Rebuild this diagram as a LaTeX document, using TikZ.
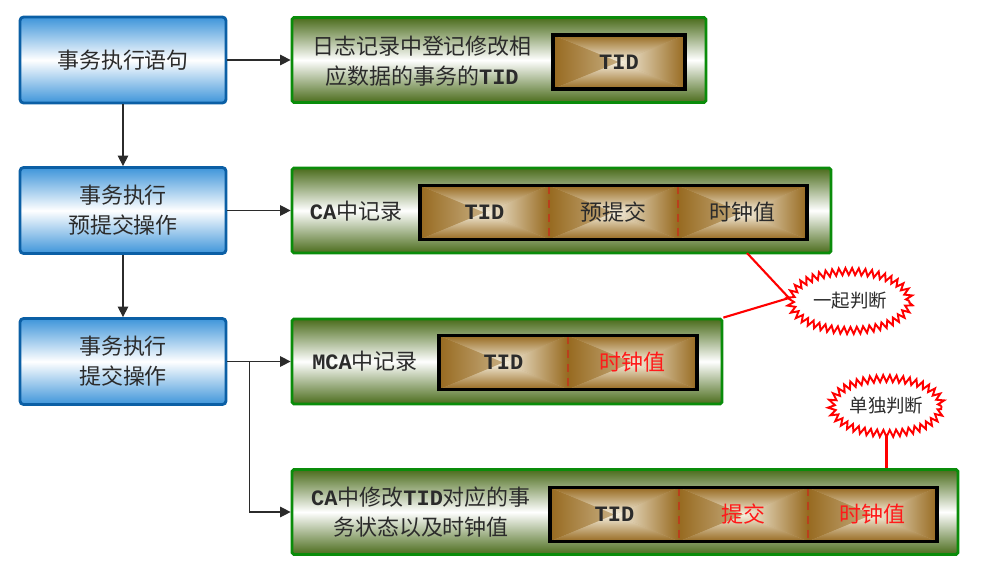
\documentclass[tikz,border=0pt]{standalone}
\usepackage{fontspec}
\setmainfont{Noto Sans CJK SC}
\newfontfamily\tidfont{Liberation Mono}
\usepackage{tikz}
\usetikzlibrary{arrows.meta, positioning, shapes.geometric, decorations.pathmorphing}

\definecolor{edgeblue}{HTML}{0B5FA5}
\definecolor{skyblue}{HTML}{3E95DA}
\definecolor{edgegreen}{HTML}{0A8C0A}
\definecolor{olivedark}{HTML}{4B6C1C}
\definecolor{bronze}{HTML}{976A20}
\definecolor{sand}{HTML}{F6F0E0}
\definecolor{ink}{HTML}{2B2B2B}
\definecolor{rust}{HTML}{B8401C}
\definecolor{alarm}{HTML}{FF1A1A}

\newcommand{\tid}[1]{{\tidfont\bfseries #1}}
\newcommand{\cnfont}{\fontsize{12.5}{17}\selectfont}

\begin{document}
\begin{tikzpicture}[
  x=0.02cm, y=-0.02cm,
  stage/.style={draw=edgeblue, line width=1.6pt, rounded corners=2pt, top color=skyblue, bottom color=skyblue, middle color=white, minimum width=4.12cm, minimum height=1.72cm, align=center, text=ink, font=\cnfont},
  record/.style={draw=edgegreen, line width=1.6pt, rounded corners=1pt, top color=olivedark, bottom color=olivedark, middle color=white, minimum height=1.7cm},
  cell/.style={fill=bronze!55!sand, minimum width=2.58cm, minimum height=1.08cm, inner sep=0pt, outer sep=0pt, text=ink, font=\cnfont,
    path picture={
      \shade[left color=bronze, right color=sand] (path picture bounding box.south west) -- (path picture bounding box.center) -- (path picture bounding box.north west) -- cycle;
      \shade[left color=sand, right color=bronze] (path picture bounding box.south east) -- (path picture bounding box.center) -- (path picture bounding box.north east) -- cycle;
      \shade[top color=bronze, bottom color=sand] (path picture bounding box.north west) -- (path picture bounding box.center) -- (path picture bounding box.north east) -- cycle;
      \shade[top color=sand, bottom color=bronze] (path picture bounding box.south west) -- (path picture bounding box.center) -- (path picture bounding box.south east) -- cycle;
    }},
  note/.style={align=center, text=ink, font=\cnfont},
  frame/.style={draw=black, line width=1.8pt},
  divider/.style={draw=rust, line width=1pt, dash pattern=on 5pt off 3pt},
  judge/.style={ellipse, draw=red, line width=1.1pt, fill=white, inner sep=0pt, text=ink, font=\fontsize{10.5}{12}\selectfont, decorate, decoration={zigzag, segment length=0.13cm, amplitude=0.07cm}},
  tie/.style={draw=red, line width=1.2pt},
  arr/.style={draw=ink, line width=0.7pt, -{Triangle[length=6pt, width=6pt]}}
]
\useasboundingbox (0,0) rectangle (995,565);

% left column
\node[stage] (s1) at (123,60)    {事务执行语句};
\node[stage] (s2) at (123,210.5) {事务执行\\预提交操作};
\node[stage] (s3) at (123,361.5) {事务执行\\提交操作};

% right column
\node[record, minimum width=8.28cm]  (g1) at (499,60)    {};
\node[record, minimum width=10.78cm] (g2) at (561.5,210.5) {};
\node[record, minimum width=8.6cm]   (g3) at (507,361.5) {};
\node[record, minimum width=13.32cm] (g4) at (625,512)   {};

\node[note] (n1) at (422,61)  {日志记录中登记修改相\\应数据的事务的\tid{TID}};
\node[note] (n2) at (356,211) {\tid{CA}中记录};
\node[note] (n3) at (365,361) {\tid{MCA}中记录};
\node[note] (n4) at (421,512) {\tid{CA}中修改\tid{TID}对应的事\\务状态以及时钟值};

\node[cell, minimum width=2.64cm] (c11) at (619,62) {\tid{TID}};
\draw[frame] (c11.north west) rectangle (c11.south east);

\node[cell] (c21) at (484.5,212.5) {\tid{TID}};
\node[cell, right=0pt of c21] (c22) {预提交};
\node[cell, right=0pt of c22] (c23) {时钟值};
\draw[divider] (c21.north east) -- (c21.south east);
\draw[divider] (c22.north east) -- (c22.south east);
\draw[frame] (c21.north west) rectangle (c23.south east);

\node[cell] (c31) at (503.5,362.5) {\tid{TID}};
\node[cell, right=0pt of c31, text=alarm] (c32) {时钟值};
\draw[divider] (c31.north east) -- (c31.south east);
\draw[frame] (c31.north west) rectangle (c32.south east);

\node[cell] (c41) at (614.5,514.5) {\tid{TID}};
\node[cell, right=0pt of c41, text=alarm] (c42) {提交};
\node[cell, right=0pt of c42, text=alarm] (c43) {时钟值};
\draw[divider] (c41.north east) -- (c41.south east);
\draw[divider] (c42.north east) -- (c42.south east);
\draw[frame] (c41.north west) rectangle (c43.south east);

% flow
\draw[arr] (s1) -- (s2);
\draw[arr] (s2) -- (s3);
\draw[arr] (s1) -- (g1);
\draw[arr] (s2) -- (g2);
\draw[arr] (s3) -- (g3);
\draw[arr] (s3.east) -- ++(22,0) |- (g4.west);

% judgements
\coordinate (tieCA) at (747,253);
\draw[tie] (tieCA) -- (789,298);
\draw[tie] (g3.north east) -- (789,298);
\node[judge, minimum width=2.38cm, minimum height=1.18cm] (b1) at (850,301) {一起判断};
\node[judge, minimum width=2.2cm, minimum height=1.1cm] (b2) at (886.5,406) {单独判断};
\draw[tie] (b2.south) -- (b2.south |- g4.north);
\end{tikzpicture}
\end{document}
